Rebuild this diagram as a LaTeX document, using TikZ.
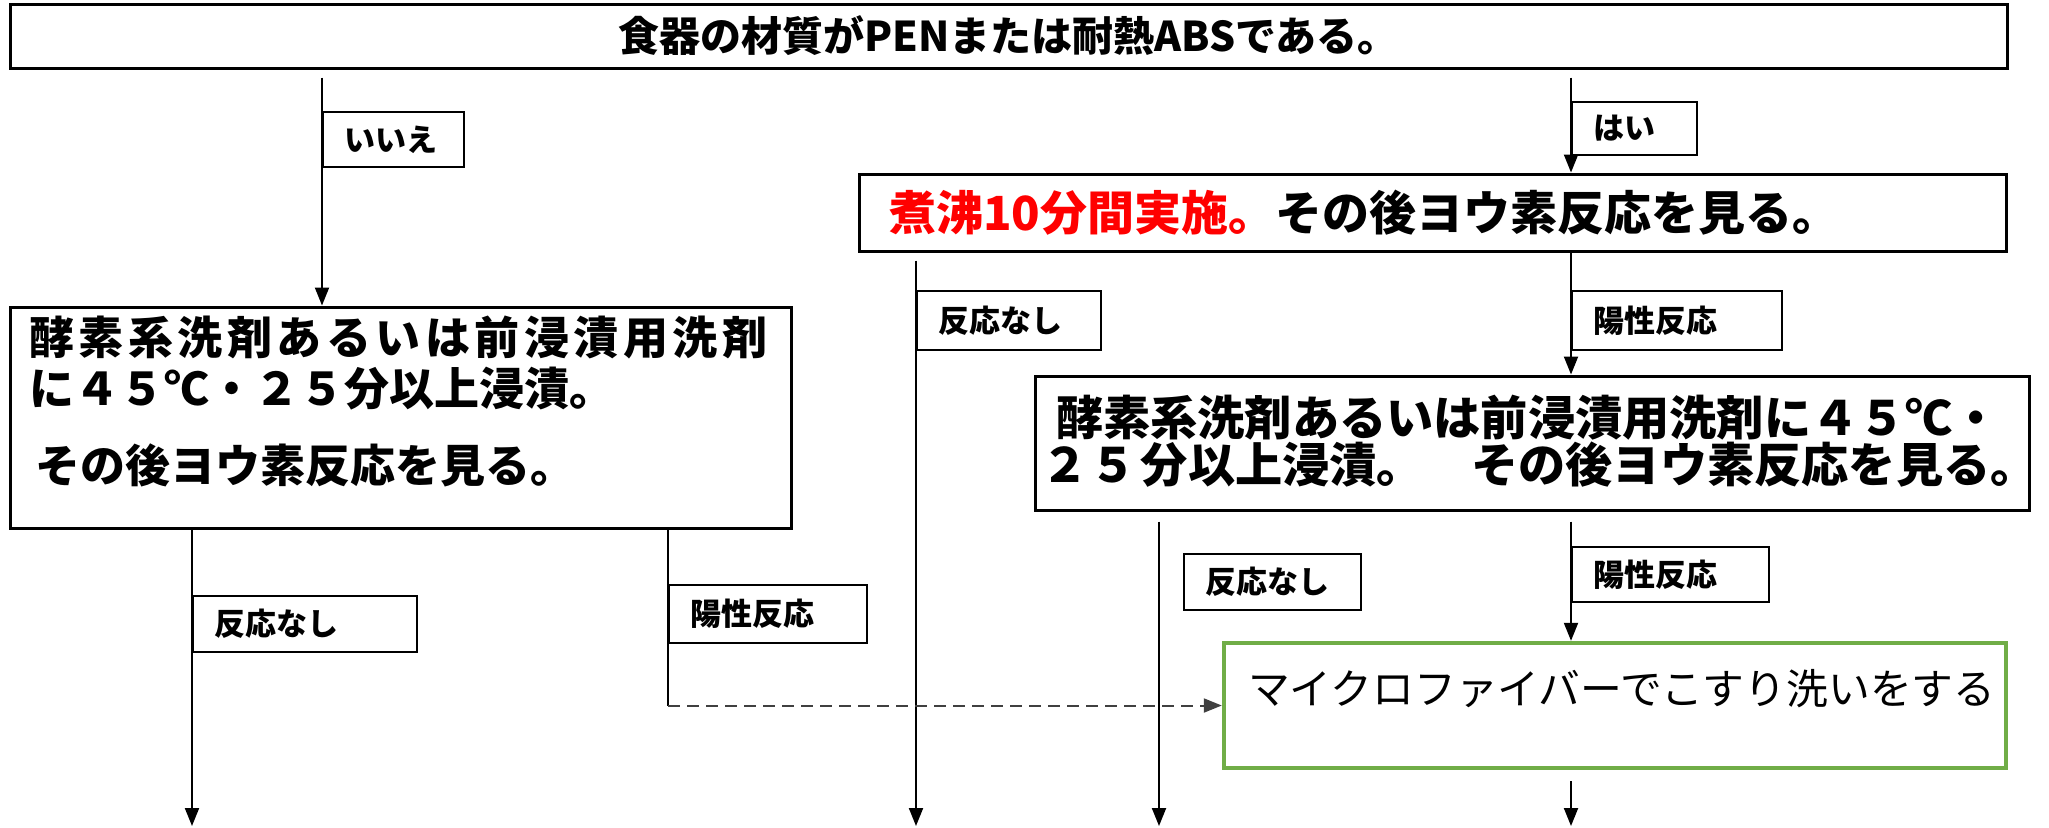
\documentclass[tikz,border=0pt]{standalone}
\usepackage{fontspec}
\usepackage{xcolor}
\usepackage{tikz}
\usetikzlibrary{arrows.meta,positioning}
\setmainfont{Noto Sans CJK JP}
\newfontfamily\jpwide{Noto Sans CJK JP}[LetterSpace=10]
\definecolor{okred}{RGB}{255,0,0}
\definecolor{scrubgreen}{RGB}{112,173,71}

\begin{document}
\begin{tikzpicture}[
    x=0.5pt, y=-0.5pt,
    >={Triangle[length=9pt,width=7pt]},
    arr/.style={->, line width=1pt},
    stepbox/.style={rectangle, draw, line width=1.5pt, align=left},
    tag/.style={rectangle, draw, line width=0.9pt, anchor=north west, inner xsep=11pt, align=left,
        font=\fontsize{15.5pt}{18pt}\selectfont\bfseries}
]
    \useasboundingbox (0,0) rectangle (2049,827);

    \node[stepbox, align=center, minimum width=998.5pt, minimum height=32pt,
        font=\fontsize{20.5pt}{22pt}\selectfont\bfseries] (top) at (1008.5,36)
        {食器の材質がPENまたは耐熱ABSである。};
    \node[stepbox, minimum width=573.5pt, minimum height=38.5pt, inner xsep=15pt, text width=543.5pt,
        font=\fontsize{23.5pt}{26pt}\selectfont\bfseries] (boil) at (1432.5,212.5)
        {\textcolor{okred}{煮沸10分間実施。}その後ヨウ素反応を見る。};
    \node[stepbox, minimum width=390.5pt, minimum height=110.5pt, inner xsep=9.5pt, text width=371.5pt,
        font=\fontsize{22.5pt}{25.5pt}\selectfont\bfseries] (soakL) at (400.5,417.5)
        {{\jpwide 酵素系洗剤あるいは前浸漬用洗剤}\\に４５℃・２５分以上浸漬。\\[13pt]\hspace{0.15em}その後ヨウ素反応を見る。\\[-7pt]\mbox{}};
    \node[stepbox, minimum width=497pt, minimum height=67pt, inner xsep=10.5pt, text width=476pt,
        font=\fontsize{23.6pt}{22pt}\selectfont\bfseries] (soakR) at (1532,443)
        {酵素系洗剤あるいは前浸漬用洗剤に４５℃・\\\hspace*{-0.3em}２５\hspace{0.1em}分以上浸漬。　その後ヨウ素反応を見る。\\[-18pt]\mbox{}};
    \node[stepbox, draw=scrubgreen, line width=2.2pt, minimum width=391pt, minimum height=62.5pt, inner xsep=12pt, text width=367pt,
        font=\fontsize{20.9pt}{19pt}\selectfont] (scrub) at (1615,705.5)
        {マイクロファイバーでこすり洗いをする\\\mbox{}};

    \node[tag, text width=48.5pt, minimum height=27.5pt] (no) at (322,111) {いいえ};
    \node[tag, text width=40.5pt, minimum height=26.5pt] (yes) at (1571,101) {はい};
    \node[tag, text width=70pt, minimum height=29.5pt] (neg1) at (916,290) {反応なし};
    \node[tag, text width=83pt, minimum height=29.5pt] (pos1) at (1571,290) {陽性反応};
    \node[tag, text width=90pt, minimum height=28pt] (neg2) at (192,595) {反応なし};
    \node[tag, text width=77pt, minimum height=29pt] (pos2) at (668,584) {陽性反応};
    \node[tag, text width=66.5pt, minimum height=28pt] (neg3) at (1183,553) {反応なし};
    \node[tag, text width=76.5pt, minimum height=27.5pt] (pos3) at (1571,546) {陽性反応};

    \coordinate (out1) at (916,826);
    \coordinate (out2) at (192,826);
    \coordinate (out3) at (1159,826);
    \coordinate (out4) at (1571,826);
    \coordinate (bend) at (pos2.west |- scrub.west);

    \draw[arr, shorten <=4pt] (top.south -| no.west) -- (soakL.north -| no.west);
    \draw[arr, shorten <=4pt] (top.south -| yes.west) -- (boil.north -| yes.west);
    \draw[arr, shorten <=4pt] (boil.south -| neg1.west) -- (out1);
    \draw[arr] (boil.south -| pos1.west) -- (soakR.north -| pos1.west);
    \draw[arr] (soakL.south -| neg2.west) -- (out2);
    \draw[line width=1pt] (soakL.south -| pos2.west) -- (bend);
    \draw[arr, black!75, dash pattern=on 6pt off 3.5pt] (bend) -- (scrub.west);
    \draw[arr, shorten <=5pt] (soakR.south -| out3) -- (out3);
    \draw[arr, shorten <=5pt] (soakR.south -| pos3.west) -- (scrub.north -| pos3.west);
    \draw[arr, shorten <=5.5pt] (scrub.south -| out4) -- (out4);
\end{tikzpicture}
\end{document}
